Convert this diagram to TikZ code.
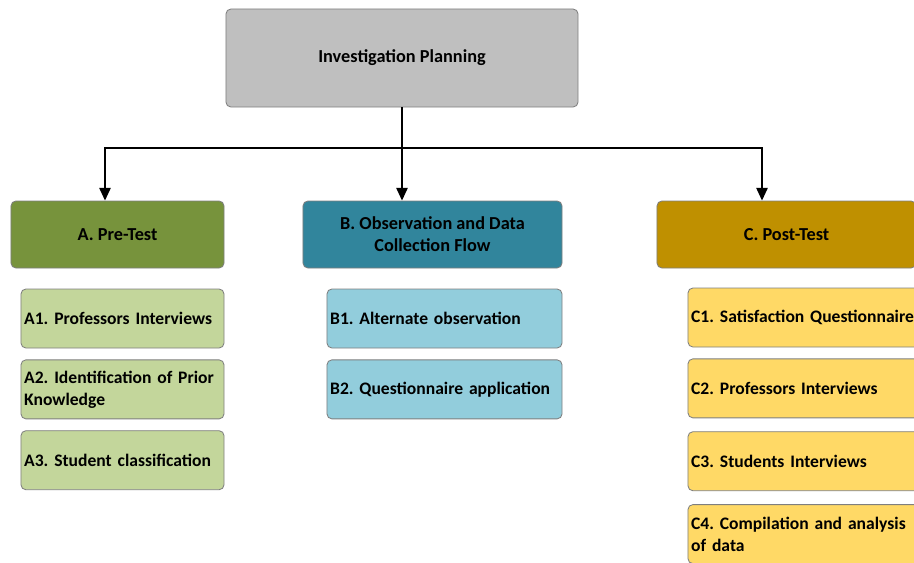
\documentclass[tikz,border=0pt]{standalone}
\usepackage{fontspec}
\setmainfont{Carlito}
\frenchspacing
\hyphenpenalty=10000
\exhyphenpenalty=10000
\usetikzlibrary{positioning, calc, arrows.meta}
\definecolor{PlanFill}{HTML}{BFBFBF}
\definecolor{Edge}{HTML}{7F7F7F}
\definecolor{PreDark}{HTML}{77933C}
\definecolor{PreLight}{HTML}{C3D69B}
\definecolor{ObsDark}{HTML}{31859C}
\definecolor{ObsLight}{HTML}{92CDDC}
\definecolor{PostDark}{HTML}{BF9000}
\definecolor{PostLight}{HTML}{FFD966}
\tikzset{
    boxbase/.style={rectangle, rounded corners=3.5pt, draw=Edge, line width=0.6pt, text=black},
    headbox/.style={boxbase, align=center, minimum height=1.675cm, font=\bfseries\fontsize{13}{15.6}\selectfont},
    itembox/.style={boxbase, align=left, inner xsep=0.08cm, minimum height=1.475cm, font=\bfseries\fontsize{12.5}{15.6}\selectfont},
    link/.style={-{Triangle[width=8pt,length=9pt]}, line width=1.2pt, color=black},
}
\begin{document}
\begin{tikzpicture}[x=0.025cm, y=-0.025cm]
    \useasboundingbox (0,0) rectangle (914,562);
    \clip (0,0) rectangle (914,562);

    % Top box
    \node[headbox, fill=PlanFill, minimum width=8.8cm, minimum height=2.45cm] (plan) at (402,58) {Investigation Planning};

    % Phases
    \node[headbox, fill=PreDark, minimum width=5.325cm] (pre) at (117.5,234.5) {A. Pre-Test};
    \node[headbox, fill=ObsDark, minimum width=6.475cm] (obs) at (432.5,234.5) {B. Observation and Data\\Collection Flow};
    \node[headbox, fill=PostDark, minimum width=6.475cm] (post) at (786.5,234.5) {C. Post-Test};

    % Arrows
    \coordinate (split) at (plan.south |- 0,148);
    \draw[link] (plan.south) -- (plan.south |- obs.north);
    \draw[link] (split) -| ($(pre.north)+(-12.5,0)$);
    \draw[link] (split) -| ($(post.north)+(-24.5,0)$);

    % A items
    \node[itembox, fill=PreLight, text width=4.915cm] (a1) at (122.5,318.5) {A1. Professors Interviews};
    \node[itembox, fill=PreLight, text width=4.915cm, below=0.275cm of a1] (a2) {A2. Identification of Prior\\Knowledge};
    \node[itembox, fill=PreLight, text width=4.915cm, below=0.275cm of a2] (a3) {A3. Student classification};

    % B items
    \node[itembox, fill=ObsLight, text width=5.715cm] (b1) at (444.5,318.5) {B1. Alternate observation};
    \node[itembox, fill=ObsLight, text width=5.715cm, below=0.275cm of b1] (b2) {B2. Questionnaire application};

    % C items
    \node[itembox, fill=PostLight, text width=5.84cm] (c1) at (808,317.5) {C1. Satisfaction Questionnaire};
    \node[itembox, fill=PostLight, text width=5.84cm, below=0.275cm of c1] (c2) {C2. Professors Interviews};
    \node[itembox, fill=PostLight, text width=5.84cm, below=0.325cm of c2] (c3) {C3. Students Interviews};
    \node[itembox, fill=PostLight, text width=5.84cm, below=0.325cm of c3] (c4) {C4. Compilation and analysis\\of data};
\end{tikzpicture}
\end{document}
